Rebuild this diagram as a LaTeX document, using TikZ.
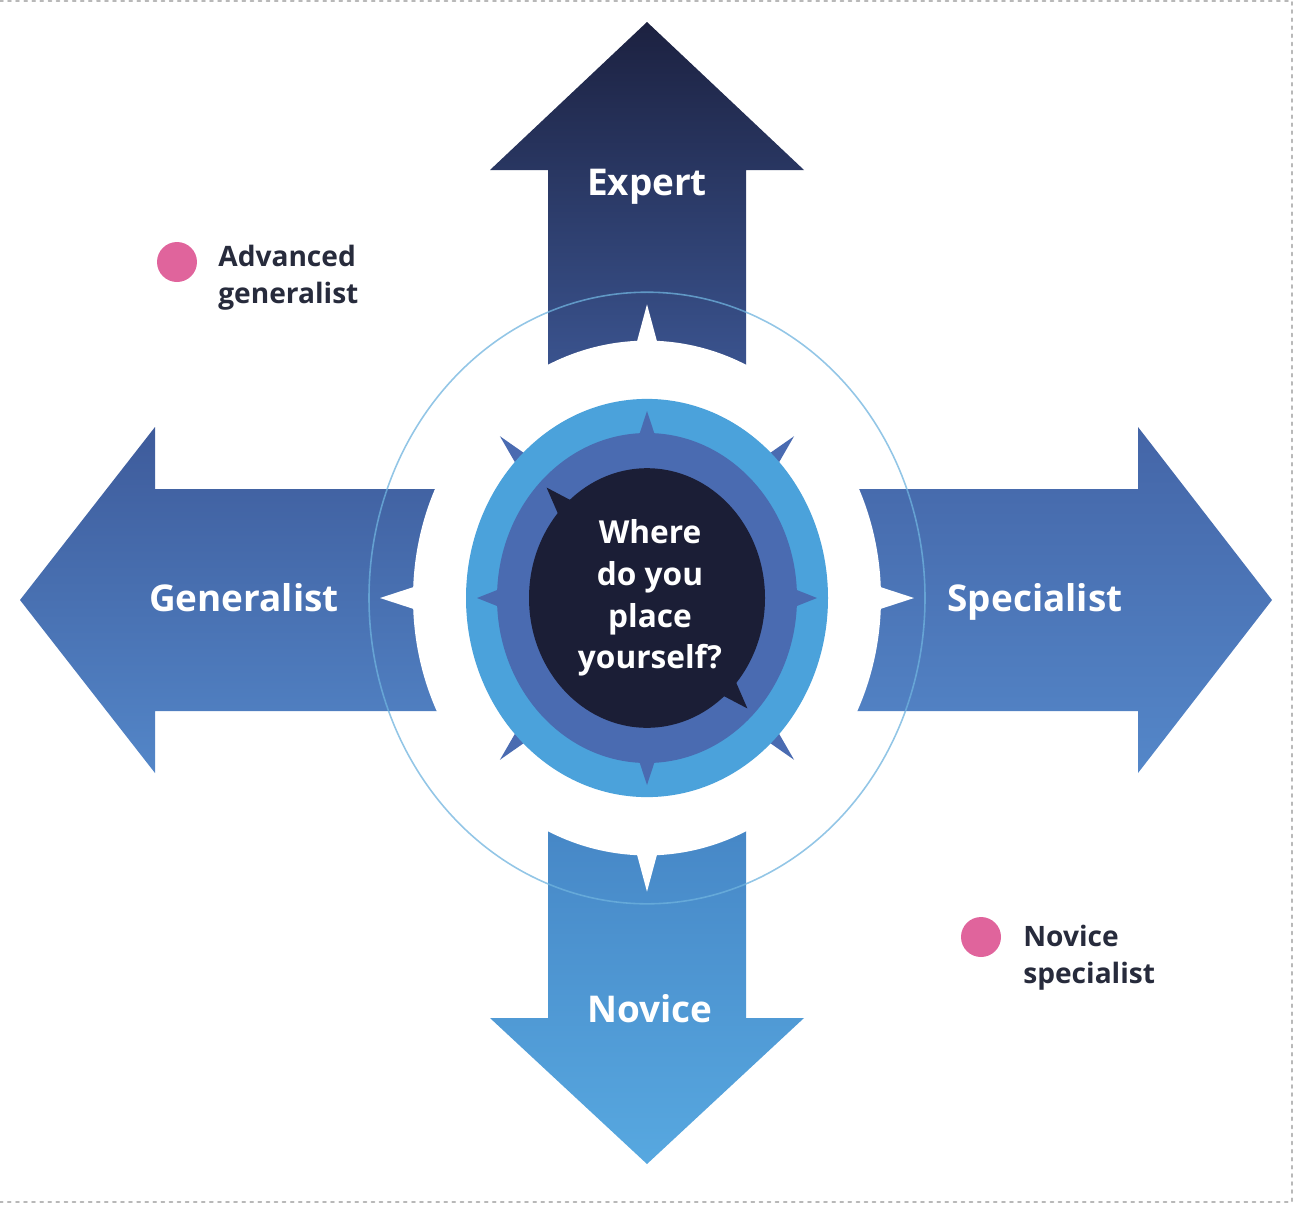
\documentclass[tikz,border=0pt]{standalone}
\usepackage{fontspec}
\setmainfont{Open Sans}
\definecolor{xpA}{HTML}{1C2140}
\definecolor{xpB}{HTML}{3D5896}
\definecolor{glA}{HTML}{3E5B9B}
\definecolor{glB}{HTML}{5386C8}
\definecolor{spA}{HTML}{4465A7}
\definecolor{spB}{HTML}{5487C9}
\definecolor{nvA}{HTML}{4584C4}
\definecolor{nvB}{HTML}{57A8E0}
\definecolor{lb}{HTML}{4BA2DB}
\definecolor{mb}{HTML}{4A6BB1}
\definecolor{nb}{HTML}{1B1E36}
\definecolor{ring}{HTML}{6FB3DE}
\definecolor{pk}{HTML}{E0649C}
\definecolor{ink}{HTML}{272B3C}
\newcommand{\armfont}{\fontsize{21}{25}\selectfont\bfseries}
\newcommand{\midfont}{\fontsize{18}{23.8}\selectfont\bfseries}
\newcommand{\legfont}{\fontsize{16}{21}\selectfont\bfseries}
\tikzset{%
  dashbox/.style={draw=black!28,line width=1.1pt,line cap=round,dash pattern=on 1.6pt off 3pt},
  armlbl/.style={text=white,font=\armfont,inner sep=0pt,anchor=base},
  midlbl/.style={text=white,font=\midfont,align=center,inner sep=0pt},
  legend/.style={text=ink,font=\legfont,align=left,inner sep=0pt,anchor=north west},
  dot/.style={circle,fill=pk,minimum size=0.8cm,inner sep=0pt}
}
\begin{document}
\begin{tikzpicture}[x=0.02cm,y=-0.02cm]%
  \useasboundingbox (0,0) rectangle (1294,1204);%
  \draw[dashbox] (0,1) -- (1292,1) -- (1292,1202) -- (0,1202);%
  % four arms
  \shade[top color=xpA,bottom color=xpB] (548,400) -- (548,170) -- (490,170) -- (647,22)
    -- (804,170) -- (746,170) -- (746,400) -- cycle;%
  \shade[top color=nvA,bottom color=nvB] (548,795) -- (548,1018) -- (490,1018) -- (647,1164)
    -- (804,1018) -- (746,1018) -- (746,795) -- cycle;%
  \shade[top color=glA,bottom color=glB] (480,489) -- (155,489) -- (155,427) -- (20,600)
    -- (155,773) -- (155,711) -- (480,711) -- cycle;%
  \shade[top color=spA,bottom color=spB] (814,489) -- (1138,489) -- (1138,427) -- (1272,600)
    -- (1138,773) -- (1138,711) -- (814,711) -- cycle;%
  \begin{scope}[shift={(647,598)},yscale=1.1]%
    \fill[white] (0,0) circle (234);%
    \fill[white] (-3.2:225) -- (0:267) -- (3.2:225) -- cycle;%
    \fill[white] (86.8:225) -- (90:267) -- (93.2:225) -- cycle;%
    \fill[white] (176.8:225) -- (180:267) -- (183.2:225) -- cycle;%
    \fill[white] (266.8:225) -- (270:267) -- (273.2:225) -- cycle;%
    \draw[ring,line width=0.9pt,opacity=0.75] (0,0) circle (278);%
    % diagonal points, behind the light ring
    \fill[mb] (40:150) -- (45:208) -- (50:150) -- cycle;%
    \fill[mb] (130:150) -- (135:208) -- (140:150) -- cycle;%
    \fill[mb] (220:150) -- (225:208) -- (230:150) -- cycle;%
    \fill[mb] (310:150) -- (315:208) -- (320:150) -- cycle;%
    \fill[lb] (0,0) circle (181);%
    % compass points
    \fill[mb] (-4.5:140) -- (0:170) -- (4.5:140) -- cycle;%
    \fill[mb] (85.5:140) -- (90:170) -- (94.5:140) -- cycle;%
    \fill[mb] (175.5:140) -- (180:170) -- (184.5:140) -- cycle;%
    \fill[mb] (265.5:140) -- (270:170) -- (274.5:140) -- cycle;%
    \fill[mb] (0,0) circle (150);%
    \fill[nb] (39:110) -- (45:142) -- (51:110) -- cycle;%
    \fill[nb] (219:110) -- (225:142) -- (231:110) -- cycle;%
    \fill[nb] (0,0) circle (118);%
  \end{scope}
  \node[armlbl] (expert) at (647,195) {Expert};%
  \node[armlbl] (novice) at (650,1022) {Novice};%
  \node[armlbl] (generalist) at (244,611) {Generalist};%
  \node[armlbl] (specialist) at (1035,611) {Specialist};%
  \node[midlbl] (where) at (650,598) {Where\\do you\\place\\yourself?};%
  % legend
  \node[dot] (advdot) at (177,262) {};%
  \node[legend] (adv) at (218,245) {Advanced\\generalist};%
  \node[dot] (novdot) at (981,937) {};%
  \node[legend] (nov) at (1023,925) {Novice\\specialist};%
\end{tikzpicture}
\end{document}
